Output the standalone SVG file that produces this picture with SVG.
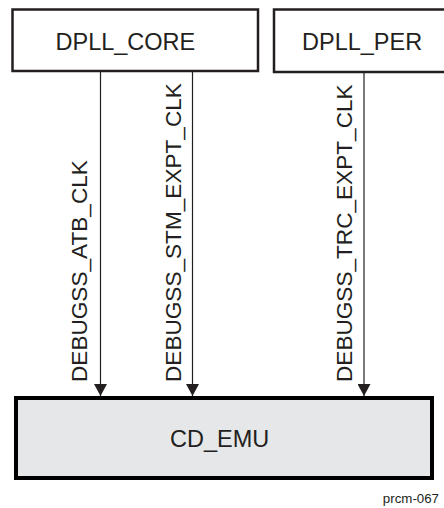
<svg xmlns="http://www.w3.org/2000/svg" width="444" height="508" viewBox="0 0 444 508">
<style>
.box{fill:#ffffff;stroke:#231f20;stroke-width:2.5}
.emu{fill:#e6e7e8;stroke:#000000;stroke-width:4}
.lbl{font-family:"Liberation Sans",Arial,sans-serif;font-size:23.5px;fill:#231f20}
.sig{font-family:"Liberation Sans",Arial,sans-serif;font-size:22.6px;fill:#231f20}
.wire{stroke:#231f20;stroke-width:1.2;fill:none;marker-end:url(#arr)}
.note{font-family:"Liberation Sans",Arial,sans-serif;font-size:13.3px;fill:#231f20}
</style>
<defs>
<marker id="arr" markerUnits="userSpaceOnUse" markerWidth="13" markerHeight="13" refX="12" refY="6.5" orient="auto">
<path d="M0,0 L12,6.5 L0,13 z" fill="#231f20"/>
</marker>
</defs>
<g id="dpll_core">
<rect class="box" x="12.5" y="9.5" width="245.5" height="61.5"/>
<text class="lbl" x="55.5" y="50">DPLL_CORE</text>
</g>
<g id="dpll_per">
<rect class="box" x="274" y="9.5" width="200" height="62.5"/>
<text class="lbl" x="302" y="50">DPLL_PER</text>
</g>
<g id="cd_emu">
<rect class="emu" x="16" y="398" width="416" height="80"/>
<text class="lbl" x="170" y="447">CD_EMU</text>
</g>
<g id="connectors">
<line class="wire" x1="100.5" y1="71" x2="100.5" y2="396"/>
<line class="wire" x1="192.5" y1="71" x2="192.5" y2="396"/>
<line class="wire" x1="364" y1="72" x2="364" y2="396"/>
<text class="sig" transform="translate(87,382) rotate(-90)">DEBUGSS_ATB_CLK</text>
<text class="sig" transform="translate(181,382) rotate(-90)">DEBUGSS_STM_EXPT_CLK</text>
<text class="sig" transform="translate(352,382) rotate(-90)">DEBUGSS_TRC_EXPT_CLK</text>
</g>
<text class="note" x="439" y="503" text-anchor="end">prcm-067</text>
</svg>
